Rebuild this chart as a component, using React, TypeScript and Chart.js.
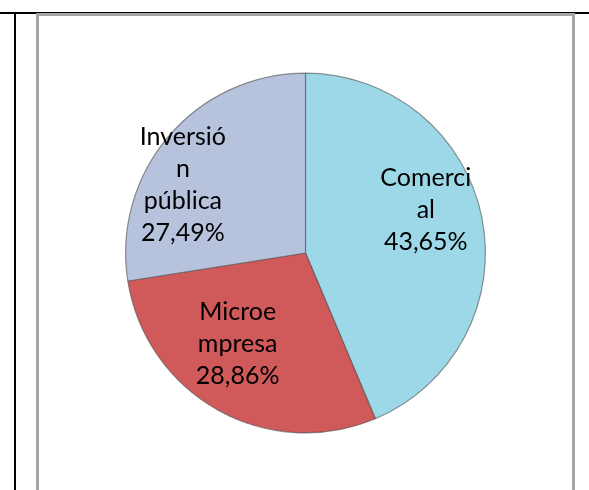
import React, { useEffect, useRef } from "react";
import { Chart, registerables } from "chart.js";

Chart.register(...registerables);

const categories = ["Comercial", "Microempresa", "Inversión pública"];
const shares = [43.65, 28.86, 27.49];
const labelLines = [
  ["Comerci", "al", "43,65%"],
  ["Microe", "mpresa", "28,86%"],
  ["Inversió", "n", "pública", "27,49%"],
];
const sliceColors = ["#9DD8E8", "#D0595A", "#B7C2DD"];
const labelRadius = [0.71, 0.63, 0.78];
const labelAngleShift = [-8.2, 7.7, -11.4];

const labelPlugin = {
  id: "sliceLabels",
  afterDatasetsDraw(chart: any) {
    const ctx = chart.ctx;
    const meta = chart.getDatasetMeta(0);
    ctx.save();
    ctx.font = "25px Lato, 'Open Sans', sans-serif";
    ctx.fillStyle = "#000";
    ctx.textAlign = "center";
    ctx.textBaseline = "middle";
    meta.data.forEach((arc: any, i: number) => {
      const p = arc.getProps(["x", "y", "startAngle", "endAngle", "outerRadius"], true);
      const mid = (p.startAngle + p.endAngle) / 2 + (labelAngleShift[i] * Math.PI) / 180;
      const r = p.outerRadius * labelRadius[i];
      const cx = p.x + Math.cos(mid) * r;
      const cy = p.y + Math.sin(mid) * r;
      const lines = labelLines[i];
      const lh = 32;
      const top = cy - ((lines.length - 1) * lh) / 2;
      lines.forEach((t, k) => ctx.fillText(t, cx, top + k * lh));
    });
    ctx.restore();
  },
};

export default function App() {
  const ref = useRef<HTMLCanvasElement>(null);
  useEffect(() => {
    if (!ref.current) return;
    const chart = new Chart(ref.current, {
      type: "pie",
      data: {
        labels: categories,
        datasets: [
          {
            data: shares,
            backgroundColor: sliceColors,
            borderColor: "rgba(80,80,80,0.6)",
            borderWidth: 1.2,
          },
        ],
      },
      options: {
        responsive: false,
        animation: false,
        layout: { padding: { left: 125, right: 103, top: 72, bottom: 56 } },
        plugins: {
          legend: { display: false },
          tooltip: { enabled: false },
        },
      },
      plugins: [labelPlugin],
    });
    return () => chart.destroy();
  }, []);

  return (
    <div style={{ position: "fixed", left: 0, top: 0, width: 589, height: 490, background: "#fff", overflow: "hidden" }}>
      <div style={{ position: "absolute", left: 0, top: 12, width: 589, height: 2, background: "#000" }} />
      <div style={{ position: "absolute", left: 14, top: 12, width: 2, height: 478, background: "#000" }} />
      <div
        style={{
          position: "absolute",
          left: 36,
          top: 13,
          width: 533,
          height: 490,
          border: "3px solid #A6A6A6",
        }}
      />
      <canvas ref={ref} width={589} height={490} style={{ position: "absolute", left: 0, top: 0 }} />
    </div>
  );
}
